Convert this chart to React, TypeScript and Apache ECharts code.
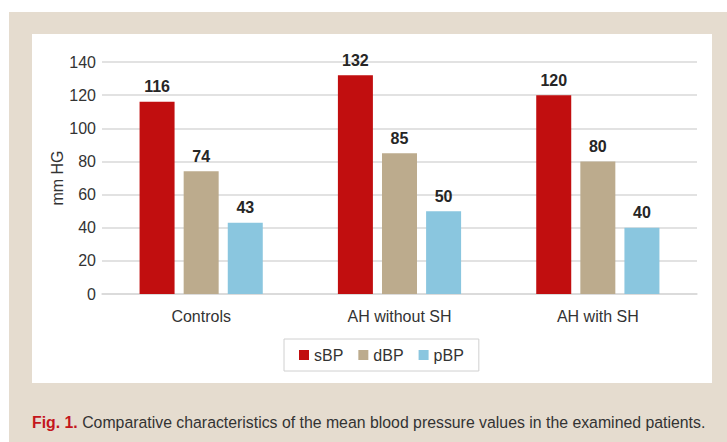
import React, { useEffect, useRef } from "react";
import * as echarts from "echarts";

const categories = ["Controls", "AH without SH", "AH with SH"];
const sBP = [116, 132, 120];
const dBP = [74, 85, 80];
const pBP = [43, 50, 40];
const seriesNames = ["sBP", "dBP", "pBP"];
const colors = ["#c10e0f", "#bcab8d", "#8ac6df"];
const yAxisName = "mm HG";
const captionLead = "Fig. 1.";
const captionText = "Comparative characteristics of the mean blood pressure values in the examined patients.";

const FONT = "Liberation Sans";

function measure(text: string, font: string): number {
  const c = document.createElement("canvas").getContext("2d")!;
  c.font = font;
  return c.measureText(text).width;
}

export default function App() {
  const ref = useRef<HTMLDivElement>(null);
  useEffect(() => {
    document.body.style.margin = "0";
    const chart = echarts.init(ref.current!, null, { renderer: "svg" });
    const values = [sBP, dBP, pBP];
    const capSize = 17;
    const total =
      measure(captionLead, `bold ${capSize}px "${FONT}"`) +
      measure(" " + captionText, `${capSize}px "${FONT}"`);
    const capScale = 674 / total;
    chart.setOption({
      animation: false,
      textStyle: { fontFamily: FONT },
      graphic: [
        { type: "rect", z: -10, shape: { x: 9, y: 12, width: 718, height: 430 }, style: { fill: "#e5dccf" } },
        { type: "rect", z: -9, shape: { x: 32, y: 34, width: 680, height: 349 }, style: { fill: "#ffffff" } },
        {
          type: "text",
          x: 32,
          y: 422,
          scaleX: capScale,
          style: {
            text: "{a|" + captionLead + "}{b| " + captionText + "}",
            verticalAlign: "middle",
            rich: {
              a: { fontFamily: FONT, fontSize: capSize, fontWeight: "bold", fill: "#c4161c" },
              b: { fontFamily: FONT, fontSize: capSize, fill: "#333333" },
            },
          },
        },
      ],
      grid: { left: 102, right: 30, top: 62, bottom: 148 },
      legend: {
        left: 284,
        top: 339,
        padding: [8, 15],
        borderColor: "#d0d0d0",
        borderWidth: 1,
        itemWidth: 10,
        itemHeight: 10,
        itemGap: 15,
        icon: "rect",
        textStyle: { fontSize: 16, color: "#333333" },
        data: seriesNames,
      },
      xAxis: {
        type: "category",
        data: categories,
        axisLine: { lineStyle: { color: "#d9d9d9", width: 1.5 } },
        axisTick: { show: false },
        axisLabel: { fontSize: 16, color: "#333333", margin: 14 },
      },
      yAxis: {
        type: "value",
        min: 0,
        max: 140,
        interval: 20,
        name: yAxisName,
        nameLocation: "middle",
        nameGap: 37,
        nameMoveOverlap: false,
        nameTextStyle: { fontSize: 16, color: "#333333" },
        axisLine: { show: false },
        axisTick: { show: false },
        axisLabel: { fontSize: 16, color: "#333333", margin: 6 },
        splitLine: { lineStyle: { color: "#d9d9d9", width: 1.5 } },
      },
      series: seriesNames.map((n, i) => ({
        name: n,
        type: "bar",
        data: values[i],
        barWidth: 35,
        barGap: "26%",
        itemStyle: { color: colors[i] },
        label: {
          show: true,
          position: "top",
          distance: 7,
          fontSize: 16,
          fontWeight: "bold",
          color: "#262626",
        },
      })),
    });
    return () => chart.dispose();
  }, []);
  return <div ref={ref} style={{ position: "absolute", left: 0, top: 0, width: 727, height: 442 }} />;
}
